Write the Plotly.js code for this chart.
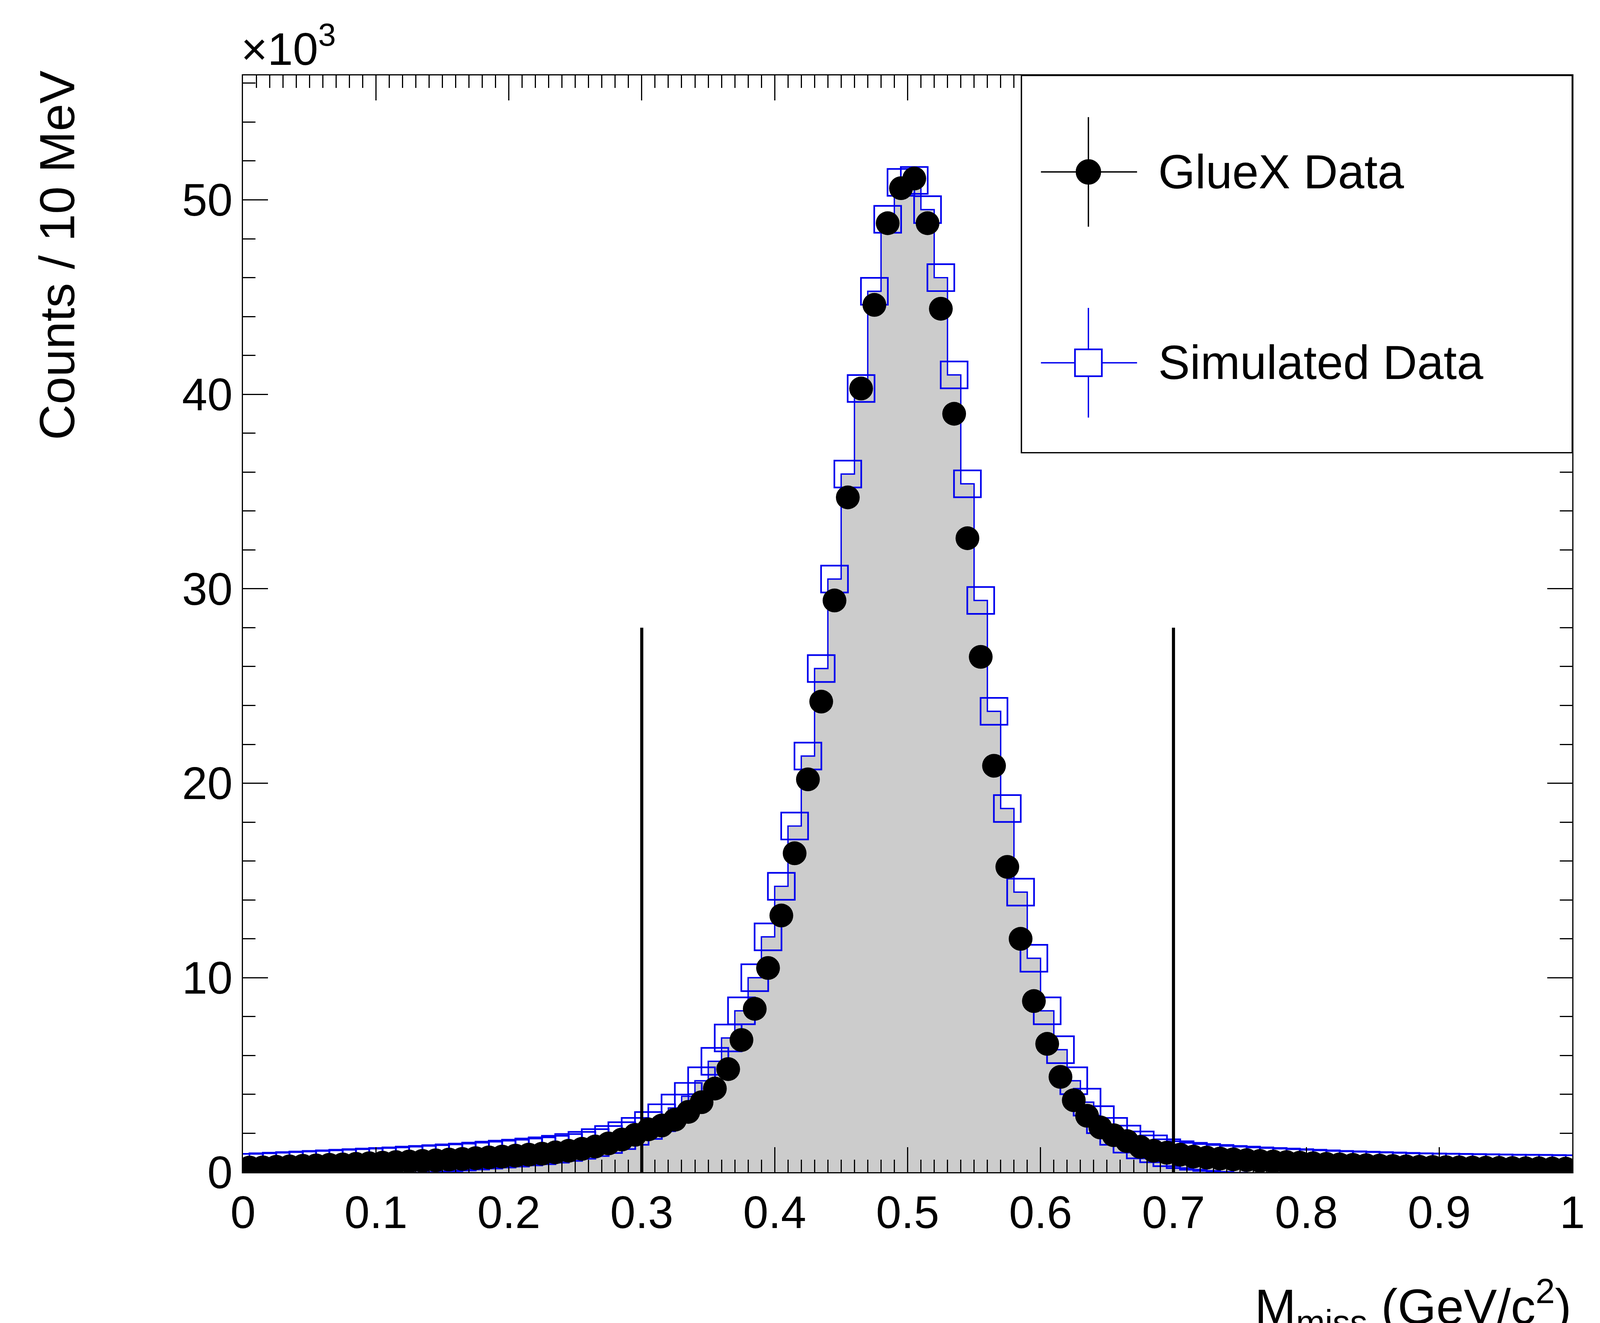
<!DOCTYPE html>
<html><head><meta charset="utf-8">
<script src="https://cdn.plot.ly/plotly-3.0.1.min.js"></script>
<style>html,body{margin:0;background:#fff;overflow:hidden}</style></head>
<body><div id="chart"></div>
<script>
const binWidth = 0.01;
const binCenters = Array.from({length:100},(_,i)=>+(0.005+i*0.01).toFixed(3));
const gluexData = [
0.24,0.25,0.28,0.30,0.33,0.35,0.38,0.40,0.43,0.46,
0.49,0.52,0.55,0.58,0.61,0.65,0.68,0.72,0.76,0.80,
0.85,0.90,0.95,1.02,1.10,1.20,1.32,1.48,1.68,1.92,
2.2,2.4,2.7,3.1,3.6,4.3,5.3,6.8,8.4,10.5,
13.2,16.4,20.2,24.2,29.4,34.7,40.3,44.6,48.8,50.6,
51.1,48.8,44.4,39.0,32.6,26.5,20.9,15.7,12.0,8.8,
6.6,4.9,3.7,2.9,2.3,1.9,1.6,1.3,1.1,1.0,
0.9,0.8,0.75,0.7,0.66,0.62,0.58,0.55,0.52,0.49,
0.46,0.43,0.40,0.38,0.36,0.34,0.32,0.30,0.28,0.27,
0.26,0.25,0.24,0.23,0.22,0.21,0.20,0.20,0.19,0.18];
const simData = [
0.25,0.28,0.31,0.34,0.37,0.40,0.43,0.46,0.49,0.52,
0.55,0.58,0.62,0.66,0.70,0.74,0.78,0.83,0.88,0.93,
0.98,1.04,1.10,1.18,1.27,1.38,1.52,1.68,1.88,2.1,
2.4,2.8,3.3,3.9,4.7,5.7,6.9,8.3,10.0,12.1,
14.7,17.8,21.4,25.9,30.5,35.9,40.3,45.3,49.0,50.9,
51.0,49.5,46.0,41.0,35.4,29.4,23.7,18.7,14.4,11.0,
8.3,6.3,4.7,3.6,2.7,2.1,1.7,1.4,1.2,1.0,
0.9,0.82,0.76,0.71,0.66,0.62,0.58,0.55,0.52,0.49,
0.46,0.43,0.40,0.38,0.36,0.34,0.32,0.30,0.28,0.27,
0.26,0.25,0.24,0.23,0.22,0.21,0.20,0.20,0.19,0.18];
const cutValues = [0.3, 0.7];
const cutHeight = 28;
const yTickVals = [0,10,20,30,40,50];
const xTickVals = [0,0.1,0.2,0.3,0.4,0.5,0.6,0.7,0.8,0.9,1];
const legendLabels = ['GlueX Data','Simulated Data'];

const W = window.innerWidth, H = window.innerHeight;
const s = W/1548;
const edgesX = binCenters.map(c=>c-binWidth/2).concat([binCenters[binCenters.length-1]+binWidth/2]);
const stepY = simData.concat([simData[simData.length-1]]);
const F = "Liberation Sans, Arial, sans-serif";
const BLUE = '#0000ee';

const traces = [
 {x:edgesX,y:stepY,type:'scatter',mode:'lines',line:{shape:'hv',color:BLUE,width:1.3*s},
  fill:'tozeroy',fillcolor:'#cccccc',showlegend:false,hoverinfo:'skip'},
 {x:binCenters,y:simData,type:'scatter',mode:'markers',name:legendLabels[1],showlegend:false,
  marker:{symbol:'square-open',size:26*s,color:BLUE,line:{width:1.6*s,color:BLUE}}},
 {x:binCenters,y:gluexData,type:'scatter',mode:'markers',name:legendLabels[0],showlegend:false,
  marker:{symbol:'circle',size:23*s,color:'#000'}}
];
const axCommon = {showgrid:false,zeroline:false,showline:true,linecolor:'#000',linewidth:1.3*s,mirror:'allticks',
  ticks:'inside',ticklen:24*s,tickwidth:1.3*s,tickcolor:'#000',tickfont:{family:F,size:44*s,color:'#000'}};
// legend geometry (paper coords)
const lx0=0.5856, ly0=0.656, mx=0.636, ly=[0.912,0.738];
const shapes = cutValues.map(v=>({type:'line',xref:'x',yref:'y',x0:v,x1:v,y0:0,y1:cutHeight,line:{color:'#000',width:3*s}}));
shapes.push({type:'rect',xref:'paper',yref:'paper',x0:lx0,x1:1,y0:ly0,y1:1,fillcolor:'#fff',line:{color:'#000',width:1.3*s}});
const cols=['#000',BLUE];
ly.forEach((y,i)=>{
  shapes.push({type:'line',xref:'paper',yref:'paper',x0:0.6003,x1:0.6726,y0:y,y1:y,line:{color:cols[i],width:1.3*s}});
  shapes.push({type:'line',xref:'paper',yref:'paper',x0:mx,x1:mx,y0:y-0.05,y1:y+0.05,line:{color:cols[i],width:1.3*s}});
  const h=i===0?11.5:13;
  shapes.push({type:i===0?'circle':'rect',xref:'paper',yref:'paper',xsizemode:'pixel',ysizemode:'pixel',
    xanchor:mx,yanchor:y,x0:-h*s,x1:h*s,y0:-h*s,y1:h*s,
    fillcolor:i===0?'#000':'#fff',line:{color:cols[i],width:1.6*s}});
});
const annotations = [
  {xref:'paper',yref:'paper',x:1,y:-0.09,xanchor:'right',yanchor:'top',showarrow:false,
   text:'M<sub>miss</sub> (GeV/c<sup>2</sup>)',font:{family:F,size:48*s,color:'#000'}},
  {xref:'paper',yref:'paper',x:-0.14,y:1.005,xanchor:'center',yanchor:'top',textangle:-90,showarrow:false,
   text:'Counts / 10 MeV',font:{family:F,size:48*s,color:'#000'}},
  {xref:'paper',yref:'paper',x:-0.002,y:1.0,xanchor:'left',yanchor:'bottom',showarrow:false,
   text:'×10<sup>3</sup>',font:{family:F,size:44*s,color:'#000'}}
];
ly.forEach((y,i)=>annotations.push({xref:'paper',yref:'paper',x:0.688,y:y,xanchor:'left',yanchor:'middle',
  showarrow:false,text:legendLabels[i],font:{family:F,size:46*s,color:'#000'}}));
const layout = {
 width:W,height:H,paper_bgcolor:'#fff',plot_bgcolor:'#fff',showlegend:false,
 margin:{l:235*s,r:27*s,t:73*s,b:146*s},
 xaxis:Object.assign({},axCommon,{range:[0,1],tickvals:xTickVals,ticktext:xTickVals.map(String),
   minor:{dtick:0.01,ticks:'inside',ticklen:12*s,tickwidth:1*s,tickcolor:'#000'}}),
 yaxis:Object.assign({},axCommon,{range:[0,56.4],tickvals:yTickVals,ticktext:yTickVals.map(String),
   minor:{dtick:2,ticks:'inside',ticklen:12*s,tickwidth:1*s,tickcolor:'#000'},ticklabelstandoff:12*s}),
 shapes:shapes, annotations:annotations
};
Plotly.newPlot('chart',traces,layout,{displayModeBar:false});
</script></body></html>
